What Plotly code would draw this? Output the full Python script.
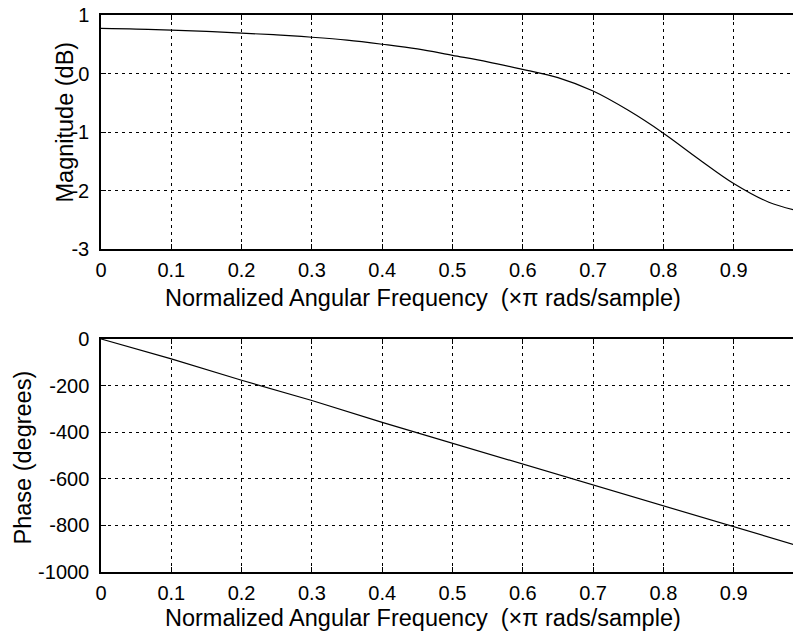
import plotly.graph_objects as go

# ---- data ----
freq_mag = [0.0, 0.05, 0.1, 0.15, 0.2, 0.25, 0.3, 0.35, 0.4, 0.45, 0.5,
            0.55, 0.6, 0.65, 0.7, 0.75, 0.8, 0.85, 0.9, 0.95, 1.0]
magnitude_db = [0.77, 0.76, 0.74, 0.72, 0.69, 0.66, 0.62, 0.57, 0.50, 0.42, 0.31,
                0.20, 0.07, -0.07, -0.30, -0.63, -1.02, -1.46, -1.88, -2.20, -2.37]
freq_phase = [0.0, 0.1, 0.2, 0.3, 0.4, 0.5, 0.6, 0.7, 0.8, 0.9, 1.0]
phase_deg = [0, -85, -177, -264, -358, -448, -537, -627, -716, -805, -895]

x_ticks = [0, 0.1, 0.2, 0.3, 0.4, 0.5, 0.6, 0.7, 0.8, 0.9, 1]
x_ticklabels = ["0", "0.1", "0.2", "0.3", "0.4", "0.5", "0.6", "0.7", "0.8", "0.9", "1"]
mag_ticks = [1, 0, -1, -2, -3]
mag_ticklabels = ["1", "0", "-1", "-2", "-3"]
phase_ticks = [0, -200, -400, -600, -800, -1000]
phase_ticklabels = ["0", "-200", "-400", "-600", "-800", "-1000"]

x_title = "Normalized Angular Frequency  (×π rads/sample)"
mag_title = "Magnitude (dB)"
phase_title = "Phase (degrees)"

FONT = "Liberation Sans, Arial, sans-serif"
TICK_SIZE = 20
TITLE_SIZE = 23.5

# page body has an 8px default margin; layout below is in figure coordinates
W, H = 801, 631
ML, MR, MT, MB = 93, 5, 7, 67
plot_w = W - ML - MR
plot_h = H - MT - MB
top_dom = [(plot_h - 234) / plot_h, 1.0]
bot_dom = [0.0, 233 / plot_h]

def px_x(px):
    return (px - ML) / plot_w

def px_y(py):
    return 1 - (py - MT) / plot_h

fig = go.Figure()
fig.add_trace(go.Scatter(x=freq_mag, y=magnitude_db, mode="lines",
                         line=dict(color="black", width=1.2, shape="spline"),
                         xaxis="x", yaxis="y", showlegend=False))
fig.add_trace(go.Scatter(x=freq_phase, y=phase_deg, mode="lines",
                         line=dict(color="black", width=1.2),
                         xaxis="x2", yaxis="y2", showlegend=False))

common = dict(showgrid=True, gridcolor="black", gridwidth=1, griddash="3px,4px",
              showline=True, linecolor="black", linewidth=1.5, mirror="ticks",
              ticks="inside", ticklen=5, tickcolor="black", zeroline=False,
              automargin=False, ticklabeloverflow="allow",
              tickfont=dict(family=FONT, size=TICK_SIZE, color="black"))
common_x = dict(common, range=[0, 1], tickmode="array", tickvals=x_ticks,
                ticktext=x_ticklabels, ticklabelstandoff=2)
common_y = dict(common, ticklabelstandoff=6)

tfont = dict(family=FONT, size=TITLE_SIZE, color="black")

fig.update_layout(
    width=W, height=H, autosize=False,
    margin=dict(l=ML, r=MR, t=MT, b=MB, autoexpand=False),
    paper_bgcolor="white", plot_bgcolor="white",
    xaxis=dict(common_x, domain=[0, 1], anchor="y"),
    yaxis=dict(common_y, domain=top_dom, anchor="x", range=[-3, 1],
               tickmode="array", tickvals=mag_ticks, ticktext=mag_ticklabels),
    xaxis2=dict(common_x, domain=[0, 1], anchor="y2"),
    yaxis2=dict(common_y, domain=bot_dom, anchor="x2", range=[-1000, 0],
                tickmode="array", tickvals=phase_ticks, ticktext=phase_ticklabels),
    annotations=[
        dict(text=x_title, x=px_x(414.5), y=px_y(290), xref="paper", yref="paper",
             showarrow=False, xanchor="center", yanchor="middle", font=tfont),
        dict(text=x_title, x=px_x(414.5), y=px_y(610), xref="paper", yref="paper",
             showarrow=False, xanchor="center", yanchor="middle", font=tfont),
        dict(text=mag_title, textangle=-90, x=px_x(56), y=px_y(114.5),
             xref="paper", yref="paper", showarrow=False,
             xanchor="center", yanchor="middle", font=tfont),
        dict(text=phase_title, textangle=-90, x=px_x(14), y=px_y(449.5),
             xref="paper", yref="paper", showarrow=False,
             xanchor="center", yanchor="middle", font=tfont),
    ],
)

fig.write_html("out.html")
